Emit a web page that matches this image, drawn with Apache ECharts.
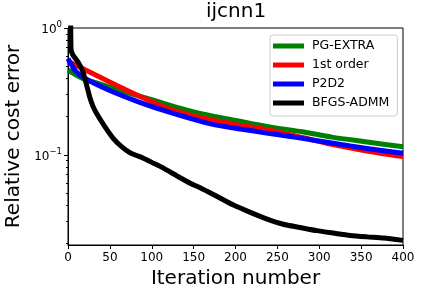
<!DOCTYPE html>
<html>
<head>
<meta charset="utf-8">
<script src="https://cdn.jsdelivr.net/npm/echarts@6/dist/echarts.min.js"></script>
<style>html,body{margin:0;padding:0;background:#fff;}#c{width:422px;height:295px;}</style>
</head>
<body>
<div id="c"></div>
<script>
const titleText = 'ijcnn1';
const xName = 'Iteration number';
const yName = 'Relative cost error';
const seriesNames = ['PG-EXTRA', '1st order', 'P2D2', 'BFGS-ADMM'];
const seriesColors = ['#008000', '#ff0000', '#0000ff', '#000000'];
const xTicks = [0, 50, 100, 150, 200, 250, 300, 350, 400];
const yMajorTicks = [0.1, 1];
const yMinorTicks = [0.02,0.03,0.04,0.05,0.06,0.07,0.08,0.09,0.2,0.3,0.4,0.5,0.6,0.7,0.8,0.9];

const pgIter = [0, 10, 18, 29, 45, 60, 80, 101, 130, 165, 200, 239, 280, 315, 355, 400];
const pgVal  = [0.465, 0.425, 0.399, 0.378, 0.35, 0.325, 0.297, 0.271, 0.237, 0.207, 0.187, 0.167, 0.152, 0.138, 0.127, 0.116];

const foIter = [0, 5, 13, 18, 30, 54, 85, 120, 165, 200, 239, 280, 315, 355, 400];
const foVal  = [0.55, 0.525, 0.496, 0.478, 0.436, 0.364, 0.291, 0.232, 0.192, 0.174, 0.157, 0.137, 0.121, 0.108, 0.097];

const p2Iter = [0, 5, 10, 18, 30, 54, 84, 120, 165, 200, 239, 280, 315, 355, 400];
const p2Val  = [0.573, 0.5, 0.45, 0.41, 0.37, 0.313, 0.262, 0.218, 0.179, 0.162, 0.148, 0.135, 0.124, 0.113, 0.103];

const bfIter = [3, 3.6, 6, 12, 18, 22, 26, 30, 34, 44, 54, 64, 74, 90, 102, 114, 130, 146, 160, 177, 197, 217, 237, 257, 277, 297, 317, 337, 357, 377, 400];
const bfVal  = [3, 0.68, 0.61, 0.54, 0.45, 0.36, 0.285, 0.24, 0.213, 0.167, 0.135, 0.116, 0.104, 0.0942, 0.0861, 0.0786, 0.0684, 0.0598, 0.0542, 0.0475, 0.0404, 0.0354, 0.0313, 0.0284, 0.0268, 0.0253, 0.0242, 0.0232, 0.0226, 0.0221, 0.0212];

function pairs(xs, ys) { return xs.map((x, i) => [x, ys[i]]); }
const seriesData = [pairs(pgIter, pgVal), pairs(foIter, foVal), pairs(p2Iter, p2Val), pairs(bfIter, bfVal)];

const FONT = 'DejaVu Sans';
const chart = echarts.init(document.getElementById('c'), null, {renderer: 'canvas'});
chart.setOption({
  animation: false,
  backgroundColor: '#fff',
  textStyle: {fontFamily: FONT},
  title: {
    text: titleText, left: 206, top: 2, padding: 0,
    textStyle: {fontFamily: FONT, fontSize: 20, fontWeight: 'normal', color: '#000'}
  },
  grid: {left: 68, right: 19, top: 28, bottom: 50, show: true, borderColor: '#000', borderWidth: 1, backgroundColor: 'transparent', containLabel: false, outerBoundsMode: 'none'},
  legend: {
    data: seriesNames,
    orient: 'vertical',
    left: 270, top: 35,
    padding: [4, 8, 6, 3],
    itemGap: 5,
    itemWidth: 31, itemHeight: 5,
    icon: 'rect',
    backgroundColor: 'rgba(255,255,255,0.8)',
    borderColor: '#cccccc', borderWidth: 1, borderRadius: 3,
    textStyle: {fontFamily: FONT, fontSize: 12.5, color: '#000', lineHeight: 14, padding: [0,0,0,3]}
  },
  xAxis: {
    type: 'value', min: 0, max: 400, interval: 50,
    name: xName, nameLocation: 'middle', nameGap: 21,
    nameTextStyle: {fontFamily: FONT, fontSize: 20, color: '#000'},
    axisLine: {show: true, lineStyle: {color: '#000', width: 1}},
    axisTick: {show: true, inside: false, length: 4, lineStyle: {color: '#000'}},
    axisLabel: {fontFamily: FONT, fontSize: 12, color: '#000', margin: 7, customValues: xTicks},
    splitLine: {show: false}
  },
  yAxis: [{
    type: 'log', logBase: 10, min: 0.0195, max: 1,
    name: yName, nameLocation: 'middle', nameGap: 40,
    nameTextStyle: {fontFamily: FONT, fontSize: 20, color: '#000'},
    axisLine: {show: true, lineStyle: {color: '#000', width: 1}},
    axisTick: {show: true, length: 4, lineStyle: {color: '#000'}, customValues: yMajorTicks},
    axisLabel: {
      customValues: yMajorTicks, margin: 6, color: '#000',
      formatter: function (v) { return v >= 1 ? '{b|10}{s|0}' : '{b|10}{s|\u22121}'; },
      rich: {
        b: {fontFamily: FONT, fontSize: 12, color: '#000', lineHeight: 16, verticalAlign: 'bottom'},
        s: {fontFamily: FONT, fontSize: 8.5, color: '#000', lineHeight: 16, verticalAlign: 'top'}
      }
    },
    splitLine: {show: false}
  }, {
    type: 'log', logBase: 10, min: 0.0195, max: 1, position: 'left',
    axisLine: {show: false},
    axisTick: {show: true, length: 2, lineStyle: {color: '#000'}, customValues: yMinorTicks},
    axisLabel: {show: false},
    splitLine: {show: false}
  }],
  series: seriesNames.map((n, i) => ({
    name: n, type: 'line', data: seriesData[i], yAxisIndex: 0,
    showSymbol: false, symbol: 'none', smooth: i === 3 ? 0.2 : 0.3,
    clip: true,
    lineStyle: {color: seriesColors[i], width: 5, join: 'round', cap: 'butt'},
    itemStyle: {color: seriesColors[i]}
  }))
});
</script>
</body>
</html>
